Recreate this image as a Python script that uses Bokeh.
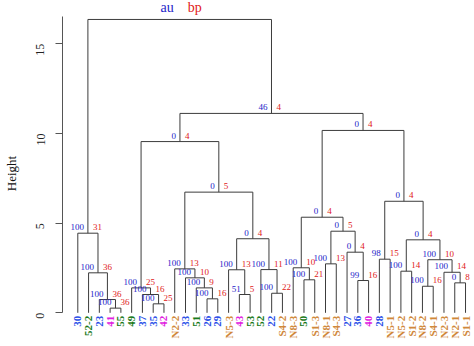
from math import pi
from bokeh.plotting import figure
from bokeh.models import Range1d, LinearAxis, FixedTicker
from bokeh.core.properties import value
from bokeh.embed import file_html
from bokeh.resources import INLINE

# ---- data ----
leaf_labels = ["30", "52-2", "23", "41", "55", "49", "37", "35", "42", "N2-2", "33", "51",
               "26", "29", "N5-3", "43", "53", "52", "22", "S4-2", "N8-3", "50", "S1-3",
               "N8-1", "S4-3", "27", "36", "40", "28", "N5-1", "N5-2", "S1-2", "N8-2",
               "S4-1", "N2-3", "N2-1", "S1-1"]
leaf_groups = ["b", "g", "b", "m", "g", "g", "b", "b", "m", "o", "b", "g",
               "b", "b", "o", "m", "g", "g", "b", "o", "o", "g", "o",
               "o", "o", "b", "b", "m", "b", "o", "o", "o", "o",
               "o", "o", "o", "o"]
group_colors = {"b": "#2a4fe8", "g": "#1a7a1a", "m": "#e020e0", "o": "#d0883a"}

# merges: leaf names (str) or 1-based merge numbers (int)
merge_left = ["41", "23", "52-2", "30", "35", "37", "49", "26", "51", "33", "N2-2", "43",
              "N5-3", "22", "52", 13, 11, 7, "50", "N8-3", "N8-1", "36", "27", 21, 20,
              "28", "N5-2", "N8-2", "N2-1", "N2-3", 28, 27, 26, 25, 18, 4]
merge_right = ["55", 1, 2, 3, "42", 5, 6, "29", 8, 9, 10, "53",
               12, "S4-2", 14, 15, 16, 17, "S1-3", 19, "S4-3", "40", 22, 23, 24,
               "N5-1", "S1-2", "S4-1", "S1-1", 29, 30, 31, 32, 33, 34, 35]
merge_height = [0.26, 0.74, 2.23, 4.44, 0.50, 1.02, 1.39, 0.78, 1.39, 1.95, 2.45, 1.02,
                2.40, 1.09, 2.41, 4.13, 6.73, 9.55, 1.84, 2.51, 2.73, 1.80, 3.38, 4.55,
                5.33, 2.99, 2.32, 1.48, 1.67, 2.26, 2.96, 4.07, 6.22, 10.17, 11.12, 16.36]
au_values = ["100", "100", "100", "100", "100", "100", "100", "100", "100", "100", "100", "51",
             "100", "100", "100", "0", "0", "0", "100", "100", "100", "99", "0", "0",
             "0", "98", "100", "100", "0", "100", "100", "0", "0", "0", "46", "au"]
bp_values = ["36", "36", "36", "31", "25", "16", "25", "16", "9", "10", "13", "5",
             "13", "22", "11", "4", "5", "4", "21", "10", "13", "16", "4", "5",
             "4", "15", "14", "16", "8", "14", "10", "4", "4", "4", "4", "bp"]
y_ticks = [0, 5, 10, 15]

# ---- geometry from the tree ----
leaf_index = {lab: i + 1 for i, lab in enumerate(leaf_labels)}
node_x, node_h = [], []


def pos(ref):
    if isinstance(ref, str):
        return leaf_index[ref], 0.0
    return node_x[ref - 1], node_h[ref - 1]


x0, y0, x1, y1 = [], [], [], []
for l, r, h in zip(merge_left, merge_right, merge_height):
    xl, hl = pos(l)
    xr, hr = pos(r)
    x0 += [xl, xl, xr]
    y0 += [h, hl, hr]
    x1 += [xr, xl, xr]
    y1 += [h, h, h]
    node_x.append((xl + xr) / 2)
    node_h.append(h)

# ---- figure ----
px_unit = 10.77
py_unit = 17.93
x_start = 1 - (77.3 - 62) / px_unit
x_end = 1 + (474 - 77.3) / px_unit
y_end = 312.3 / py_unit
y_start = -(346 - 312.3) / py_unit

p = figure(width=474, height=346, x_range=Range1d(x_start, x_end),
           y_range=Range1d(y_start, y_end), output_backend="svg",
           toolbar_location=None, x_axis_location=None, y_axis_location=None,
           min_border_left=62, min_border_right=0, min_border_top=0, min_border_bottom=0)
p.grid.visible = False
p.outline_line_color = None
p.background_fill_color = "white"
p.border_fill_color = "white"

ax = LinearAxis(ticker=FixedTicker(ticks=y_ticks), bounds=(0, 16.55),
                axis_label="Height")
ax.major_label_orientation = pi / 2
ax.major_tick_in = 0
ax.major_tick_out = 7
ax.minor_tick_line_color = None
ax.axis_line_color = "#555555"
ax.major_tick_line_color = "#555555"
ax.major_label_text_font = "Liberation Serif"
ax.major_label_text_font_size = "12px"
ax.major_label_text_color = "#222222"
ax.major_label_standoff = 15
ax.axis_label_text_font = "Liberation Serif"
ax.axis_label_text_font_size = "13px"
ax.axis_label_text_font_style = "normal"
ax.axis_label_text_color = "#111111"
ax.axis_label_standoff = 11
p.add_layout(ax, "left")

p.segment(x0=x0, y0=y0, x1=x1, y1=y1, line_color="#3c3c3c", line_width=1)

serif = value("Liberation Serif")
n_inner = len(merge_height) - 1
small_lift = 6.0 / py_unit
root_lift = 12.0 / py_unit
inner_y = [h + small_lift for h in node_h[:n_inner]]
root_y = [h + root_lift for h in node_h[n_inner:]]
p.text(x=node_x[:n_inner], y=inner_y, text=au_values[:n_inner],
       text_color="#2323c8", text_font=serif, text_font_size="9px",
       text_align="right", text_baseline="alphabetic", x_offset=-4)
p.text(x=node_x[:n_inner], y=inner_y, text=bp_values[:n_inner],
       text_color="#e02020", text_font=serif, text_font_size="9px",
       text_align="left", text_baseline="alphabetic", x_offset=5)
p.text(x=node_x[n_inner:], y=root_y, text=au_values[n_inner:],
       text_color="#2323c8", text_font=serif, text_font_size="14px",
       text_align="right", text_baseline="alphabetic", x_offset=-6)
p.text(x=node_x[n_inner:], y=root_y, text=bp_values[n_inner:],
       text_color="#e02020", text_font=serif, text_font_size="14px",
       text_align="left", text_baseline="alphabetic", x_offset=8)

label_drop = 3 / py_unit
p.text(x=list(range(1, len(leaf_labels) + 1)), y=[-label_drop] * len(leaf_labels),
       text=leaf_labels,
       text_color=[group_colors[g] for g in leaf_groups], text_font=serif,
       text_font_size="11px", text_font_style="bold", angle=pi / 2,
       text_align="right", text_baseline="middle")

open("out.html", "w").write(file_html(p, INLINE))
